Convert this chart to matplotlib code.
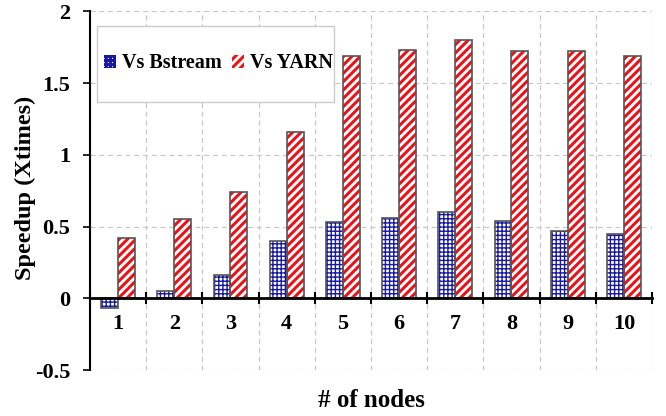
from matplotlib import pyplot as plt
from matplotlib.patches import Rectangle
import numpy as np

nodes = ['1', '2', '3', '4', '5', '6', '7', '8', '9', '10']
vs_bstream = [-0.07, 0.05, 0.16, 0.40, 0.53, 0.56, 0.60, 0.54, 0.47, 0.45]
vs_yarn = [0.42, 0.55, 0.74, 1.16, 1.69, 1.73, 1.80, 1.72, 1.72, 1.69]
yticks = [-0.5, 0, 0.5, 1, 1.5, 2]
ytick_labels = ['-0.5', '0', '0.5', '1', '1.5', '2']

plt.rcParams['font.family'] = ['Liberation Serif', 'DejaVu Serif']
plt.rcParams['font.weight'] = 'bold'

fig = plt.figure(figsize=(6.66, 4.16), dpi=100)
ax = fig.add_axes([0.135, 0.110, 0.844, 0.863])

x = np.arange(1, len(nodes) + 1)
w = 0.3

# hatched fills
plt.rcParams['hatch.linewidth'] = 1.0
b1 = ax.bar(x - w/2, vs_bstream, w, color='white', edgecolor='#1a1aa0',
            hatch='++++', linewidth=0, label='Vs Bstream', zorder=3)
plt.rcParams['hatch.linewidth'] = 2.2
b2 = ax.bar(x + w/2, vs_yarn, w, color='white', edgecolor='#e8141a',
            hatch='////', linewidth=0, label='Vs YARN', zorder=3)
# outlines
ax.bar(x - w/2, vs_bstream, w, fill=False, edgecolor='#555555', linewidth=1.2, zorder=4)
ax.bar(x + w/2, vs_yarn, w, fill=False, edgecolor='#555555', linewidth=1.2, zorder=4)

ax.set_xlim(0.5, 10.5)
ax.set_ylim(-0.5, 2)
ax.set_yticks(yticks)
ax.set_yticklabels(ytick_labels)

ax.set_xticks(np.arange(0.5, 11, 1))
ax.set_xticklabels([])
ax.set_xticks(x, minor=True)
ax.set_xticklabels(nodes, minor=True)
ax.tick_params(axis='x', which='minor', length=0, pad=11, labelsize=16)
ax.tick_params(axis='x', which='major', direction='inout', length=9, width=1.5)
ax.tick_params(axis='y', direction='out', length=5, width=1.2, pad=9, labelsize=16)

ax.spines['bottom'].set_position(('data', 0))
ax.spines['bottom'].set_linewidth(2)
ax.spines['bottom'].set_zorder(5)
ax.spines['left'].set_linewidth(1.5)
ax.spines['top'].set_visible(False)
ax.spines['right'].set_visible(False)

ax.grid(True, which='major', color='#c8c8c8', linestyle=(0, (4, 3)), linewidth=0.9)
ax.set_axisbelow(True)

fig.text(0.038, 0.548, 'Speedup (Xtimes)', rotation=90, ha='center', va='center',
         fontsize=17.5, fontweight='bold')
fig.text(0.557, 0.037, '# of nodes', ha='center', va='center', fontsize=18, fontweight='bold')

leg = ax.legend(handles=[b1, b2], loc='center left', ncol=2, bbox_to_anchor=(0.025, 0.855),
                prop={'weight': 'bold', 'size': 14.5}, frameon=False,
                handlelength=0.6, handleheight=0.6, handletextpad=0.3, columnspacing=0.5,
                borderpad=0, borderaxespad=0)
# legend frame
ax.add_patch(Rectangle((0.013, 0.748), 0.422, 0.21, transform=ax.transAxes, facecolor='white',
                       edgecolor='#cccccc', linewidth=1, zorder=2.5))

plt.savefig('out.png', dpi=100)
